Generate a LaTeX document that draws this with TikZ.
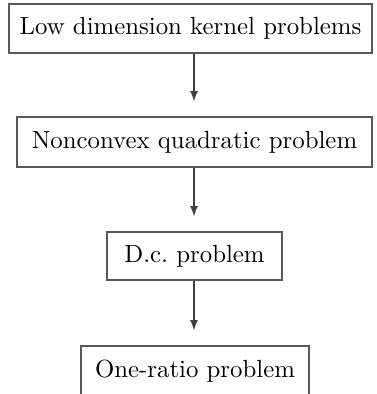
\documentclass[tikz,border=0pt]{standalone}
\usepackage{amsmath, amssymb}
\usepackage{tikz}

\begin{document}
\begin{tikzpicture}[>=latex, x=0.4032pt, y=-0.4032pt,
  probbox/.style={draw=black!65, line width=0.5pt, inner sep=0pt},
  reduce/.style={->, draw=black!75, line width=0.45pt, shorten >=6pt}]

\useasboundingbox (0,0) rectangle (376,394);
\clip (0,0) rectangle (376,394);

\node[probbox, minimum width=146.4pt, minimum height=19.8pt] (p0) at (190.5,28.5) {Low dimension kernel problems};
\node[probbox, minimum width=143.1pt, minimum height=20.2pt] (p1) at (194.5,142) {Nonconvex quadratic problem};
\node[probbox, minimum width=70.6pt, minimum height=19.4pt] (p2) at (194.5,256) {D.c.\ problem};
\node[probbox, minimum width=91.9pt, minimum height=20.2pt] (p3) at (195,371) {One-ratio problem};

% reductions
\draw[reduce] (p0.south -| 194,0) -- (p1.north -| 194,0);
\draw[reduce] (p1.south -| 194,0) -- (p2.north -| 194,0);
\draw[reduce] (p2.south -| 194,0) -- (p3.north -| 194,0);

\end{tikzpicture}
\end{document}
